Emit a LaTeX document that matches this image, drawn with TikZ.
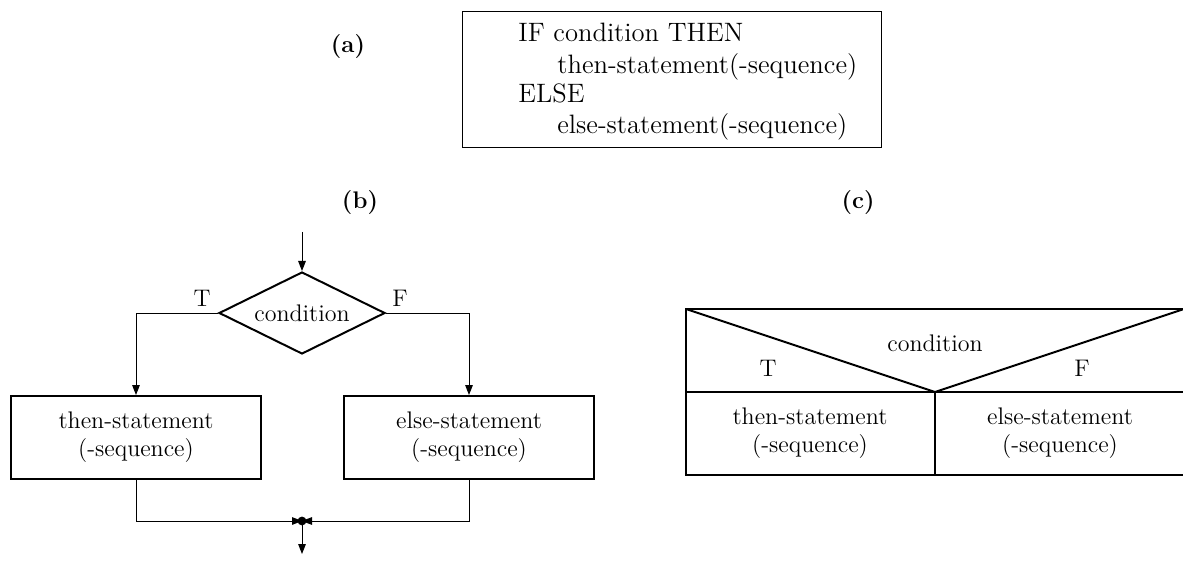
\documentclass[tikz,border=0pt]{standalone}
\usetikzlibrary{shapes.geometric,arrows.meta}
\begin{document}
\begin{tikzpicture}[x=0.5pt,y=-0.5pt,
  every node/.style={font=\fontsize{12}{14}\selectfont, inner sep=0pt},
  panel/.style={font=\fontsize{12}{14}\selectfont\bfseries},
  thick box/.style={draw, line width=1pt},
  conn/.style={line width=0.5pt},
  arr/.style={conn, -{Triangle[length=5pt,width=3.8pt]}},
  codeline/.style={anchor=base west, font=\fontsize{13.3}{16}\selectfont}]
\useasboundingbox (0,0) rectangle (1183,561);

% (a) pseudocode
\node[panel] (la) at (348,47) {(a)};
\draw[line width=0.5pt] (462,12) rectangle (881,148);
\node[codeline] (a1) at (518,42) {IF condition THEN};
\node[codeline] (a2) at (557,74) {then-statement(-sequence)};
\node[codeline] (a3) at (518,103) {ELSE};
\node[codeline] (a4) at (557,134) {else-statement(-sequence)};

% (b) flowchart
\node[panel] (lb) at (360,203) {(b)};
\coordinate (in) at (302,232);
\node[diamond, thick box, minimum width=83pt, minimum height=41pt, aspect=2] (cond) at (302,313) {condition};
\node (T) at (202,298) {T};
\node (F) at (400,298) {F};
\node[thick box, minimum width=125pt, minimum height=41.5pt, align=center] (then) at (136,437.5) {then-statement\\(-sequence)};
\node[thick box, minimum width=125pt, minimum height=41.5pt, align=center] (else) at (469,437.5) {else-statement\\(-sequence)};
\coordinate (join) at (302,521);
\coordinate (out) at (302,554);
\draw[arr] (in) -- (cond.north);
\draw[arr] (cond.west) -| (then.north);
\draw[arr] (cond.east) -| (else.north);
\draw[arr] (then.south) |- (join);
\draw[arr] (else.south) |- (join);
\fill (join) circle (2.2pt);
\draw[arr] (join) -- (out);

% (c) structogram
\node[panel] (lc) at (858,203) {(c)};
\coordinate (tl) at (686,309);
\coordinate (tr) at (1184,309);
\coordinate (ml) at (686,392);
\coordinate (mr) at (1184,392);
\coordinate (bl) at (686,475);
\coordinate (br) at (1184,475);
\coordinate (v) at (935,392);
\coordinate (vb) at (935,475);
\draw[line width=1pt] (tr) -- (tl) -- (bl) -- (br);
\draw[line width=1pt] (ml) -- (mr);
\draw[line width=1pt] (tl) -- (v) -- (tr);
\draw[line width=1pt] (v) -- (vb);
\node (cc) at (935,343) {condition};
\node (cT) at (768,368) {T};
\node (cF) at (1082,368) {F};
\node[align=center] (ct) at (810,433) {then-statement\\(-sequence)};
\node[align=center] (ce) at (1060,433) {else-statement\\(-sequence)};
\end{tikzpicture}
\end{document}
